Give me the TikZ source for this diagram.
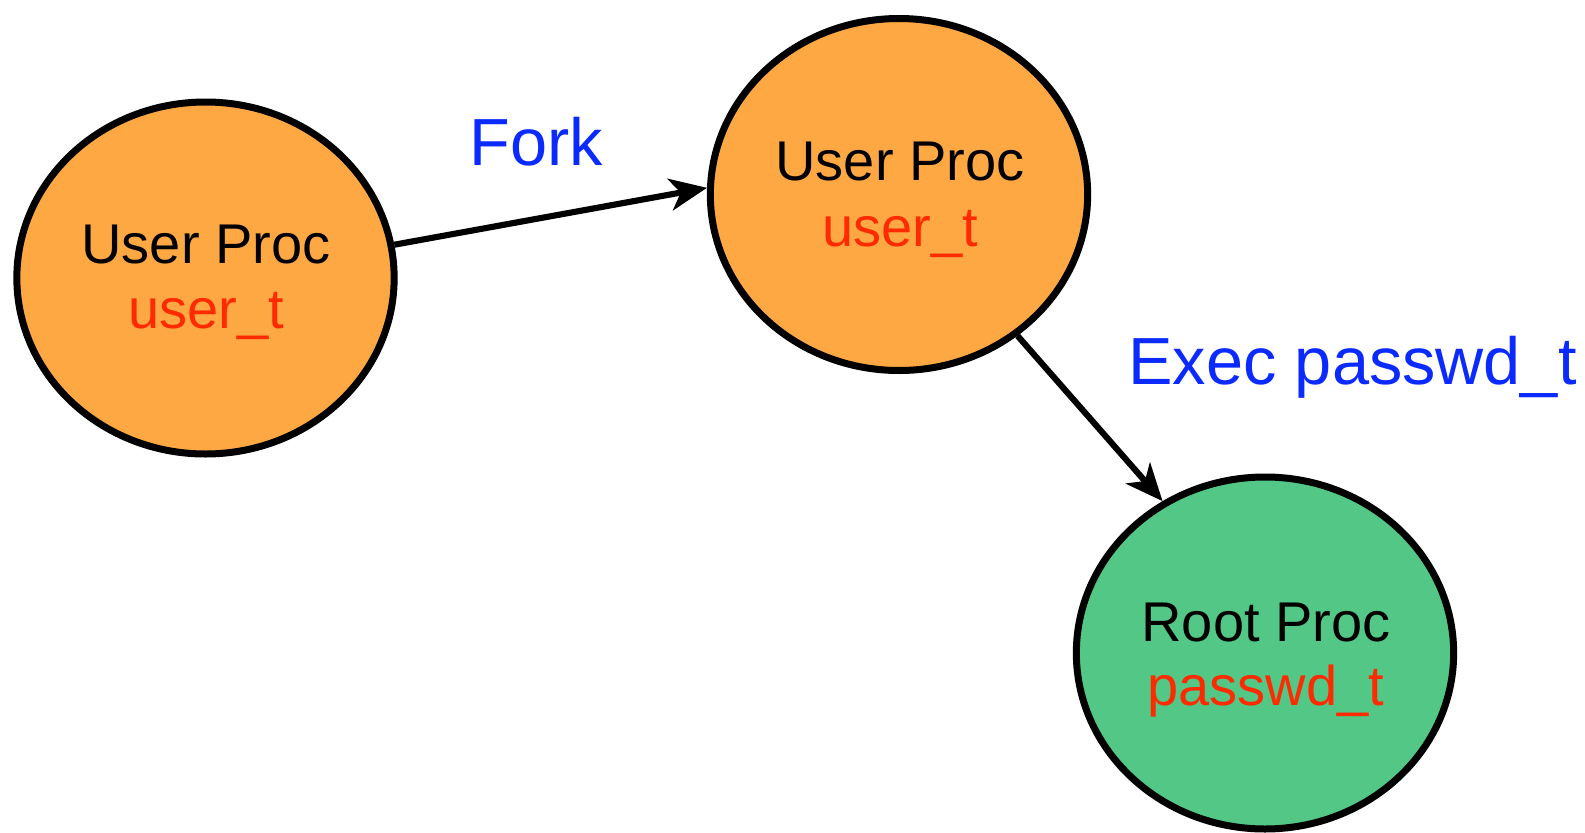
\documentclass[tikz,border=0pt]{standalone}
\usepackage{fontspec}
\setmainfont{Liberation Sans}
\usetikzlibrary{shapes.geometric,arrows.meta}
\definecolor{procorange}{HTML}{FDA843}
\definecolor{procgreen}{HTML}{52C786}
\definecolor{typered}{HTML}{FF2A00}
\definecolor{lblblue}{HTML}{0A2AFF}
\tikzset{
  proc/.style={ellipse, draw=black, line width=5.25pt, minimum width=283pt, minimum height=264pt, inner sep=0pt},
  ptitle/.style={anchor=base, font=\fontsize{42}{48}\selectfont, text=black, inner sep=0pt},
  ptype/.style={anchor=base, font=\fontsize{42}{48}\selectfont, text=typered, inner sep=0pt},
  elabel/.style={anchor=base west, font=\fontsize{50}{58}\selectfont, text=lblblue, inner sep=0pt},
  conn/.style={line width=4.6pt, -{Stealth[length=28pt, width=24pt, inset=8pt]}}
}
\begin{document}
\begin{tikzpicture}[x=0.75pt, y=-0.75pt]
\useasboundingbox (0,0) rectangle (1585,832);
\node[proc, fill=procorange] (e1) at (205.5,278) {};
\node[proc, fill=procorange] (e2) at (899,194.5) {};
\node[proc, fill=procgreen] (e3) at (1265,653) {};
\node[ptitle] (t1) at (206,263) {User Proc};
\node[ptype] (y1) at (206,328) {user\_t};
\node[ptitle] (t2) at (900,180) {User Proc};
\node[ptype] (y2) at (900,246) {user\_t};
\node[ptitle] (t3) at (1266,641) {Root Proc};
\node[ptype] (y3) at (1266,705) {passwd\_t};
\node[elabel] (fork) at (469,165) {Fork};
\node[elabel] (exec) at (1128,384) {Exec passwd\_t};
\draw[conn] (e1.10) -- (e2.178);
\draw[conn] (e2.-50) -- (e3.124);
\end{tikzpicture}
\end{document}
